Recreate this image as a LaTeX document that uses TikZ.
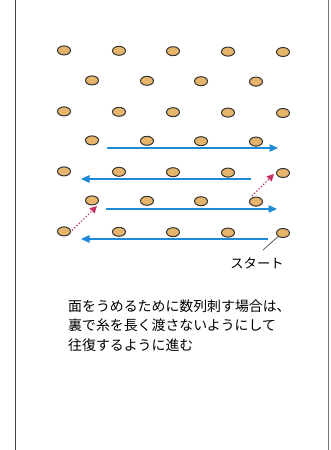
\documentclass[tikz,border=0pt]{standalone}
\usepackage{fontspec}
\newfontfamily\jpfont{Noto Sans CJK JP}
\usetikzlibrary{arrows.meta,shapes.geometric}
\definecolor{dotfill}{HTML}{E6B46A}
\definecolor{arrowblue}{HTML}{1E8AD6}
\definecolor{dotred}{HTML}{C8306A}
\tikzset{
  hole/.style={ellipse, draw=black!80, line width=1pt, fill=dotfill, minimum width=13pt, minimum height=9pt, inner sep=0pt},
  run/.style={draw=arrowblue, line width=1.2pt, -{Triangle[length=8.5pt,width=7.5pt]}},
  hop/.style={draw=dotred, line width=1.2pt, dotted, -{Triangle[length=7pt,width=7pt]}},
  lead/.style={draw=black!70, line width=0.7pt},
  frame/.style={draw=black!75, line width=0.9pt},
}
\begin{document}
\begin{tikzpicture}[x=1pt,y=-1pt]
\useasboundingbox (0,0) rectangle (330,450);
\fill[white] (0,0) rectangle (330,450);
% frame lines
\coordinate (lt) at (15,0); \coordinate (lb) at (15,450);
\coordinate (rt) at (328,0); \coordinate (rb) at (328,450);
\draw[frame] (lt) -- (lb);
\draw[frame, draw=black!55] (rt) -- (rb);
% holes: odd rows (5), even rows (4)
\foreach \r/\y in {1/50,3/111,5/171,7/231}{
  \foreach \c/\x in {1/64,2/119,3/173,4/228,5/283}{
    \node[hole] (h\r\c) at (\x,\y+\c*0.4) {};
  }
}
\foreach \r/\y in {2/80,4/140,6/200}{
  \foreach \c/\x in {1/92,2/147,3/201,4/256}{
    \node[hole] (h\r\c) at (\x,\y+\c*0.4) {};
  }
}
% running stitches
\coordinate (a1s) at (107,148); \coordinate (a1e) at (278,148);
\coordinate (a2s) at (251,179);   \coordinate (a2e) at (81,179);
\coordinate (a3s) at (106,209);   \coordinate (a3e) at (277,209);
\coordinate (a4s) at (268,239); \coordinate (a4e) at (81,239);
\draw[run] (a1s) -- (a1e);
\draw[run] (a2s) -- (a2e);
\draw[run] (a3s) -- (a3e);
\draw[run] (a4s) -- (a4e);
% hops on the back
\coordinate (b1e) at (97,206);
\coordinate (b2e) at (274,174);
\draw[hop] (h71.east) ++(1,-1) -- (b1e);
\draw[hop] (h64.north) ++(-4,-0.5) -- (b2e);
% start label
\node[font=\jpfont\fontsize{13.3}{16}\selectfont, inner sep=0pt] (start) at (257,263.5) {スタート};
\coordinate (ls) at (263,250);
\draw[lead] (ls) -- (h75.south west);
% caption
\node[font=\jpfont\fontsize{13.9}{19.5}\selectfont, align=left, anchor=north west, inner sep=0pt] (cap) at (68,299.5)
{面をうめるために数列刺す場合は、\\裏で糸を長く渡さないようにして\\往復するように進む};
\end{tikzpicture}
\end{document}
